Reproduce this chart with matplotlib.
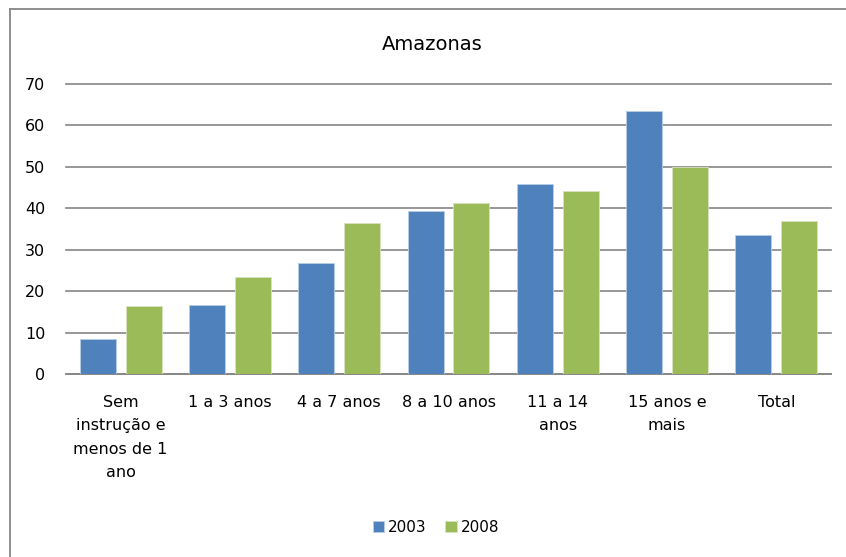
import numpy as np
import matplotlib.pyplot as plt
from matplotlib.lines import Line2D

categories = ['Sem\ninstrução e\nmenos de 1\nano', '1 a 3 anos', '4 a 7 anos',
              '8 a 10 anos', '11 a 14\nanos', '15 anos e\nmais', 'Total']
v2003 = [8.4, 16.6, 26.7, 39.3, 45.8, 63.6, 33.5]
v2008 = [16.5, 23.5, 36.5, 41.3, 44.1, 50.0, 36.9]
series_names = ['2003', '2008']
yticks = [0, 10, 20, 30, 40, 50, 60, 70]


def main():
    plt.rcParams['font.family'] = ['DejaVu Sans']
    fig = plt.figure(figsize=(8.46, 5.57), dpi=100)
    ax = fig.add_axes([66 / 846, 1 - 374 / 557, 765 / 846, 290 / 557])

    # chart border (only top and left fall inside the picture)
    bx, by = 9.5 / 846, 1 - 8.5 / 557
    fig.add_artist(Line2D([bx, 1.0], [by, by], transform=fig.transFigure,
                          color='#868686', linewidth=1.3))
    fig.add_artist(Line2D([bx, bx], [0.0, by], transform=fig.transFigure,
                          color='#868686', linewidth=1.3))

    x = np.arange(len(categories))
    w = 0.33
    ax.bar(x - 0.21, v2003, w, color='#4F81BD', edgecolor='#B9CDE5',
           linewidth=0.6, label=series_names[0], zorder=3)
    ax.bar(x + 0.21, v2008, w, color='#9BBB59', edgecolor='#D7E4BD',
           linewidth=0.6, label=series_names[1], zorder=3)

    ax.set_xlim(-0.5, len(categories) - 0.5)
    ax.set_ylim(0, 70)
    ax.set_yticks(yticks)
    ax.yaxis.grid(True, color='#868686', linewidth=1.2)
    for gl in ax.yaxis.get_gridlines():
        gl.set_clip_on(False)
    ax.set_axisbelow(True)
    for s in ['top', 'right', 'left']:
        ax.spines[s].set_visible(False)
    ax.spines['bottom'].set_color('#868686')
    ax.spines['bottom'].set_linewidth(1.2)
    ax.tick_params(axis='both', length=0, labelsize=11.5)
    ax.tick_params(axis='y', pad=15)
    ax.set_xticks(x)
    ax.set_xticklabels(categories, linespacing=1.7, va='top')
    ax.tick_params(axis='x', pad=15)

    fig.text(432 / 846, 1 - 44 / 557, 'Amazonas', ha='center', va='center',
             fontsize=14)

    fig.legend(loc='center', bbox_to_anchor=(436 / 846, 1 - 527 / 557),
               ncol=2, frameon=False, fontsize=11, handlelength=0.75,
               handleheight=0.75, handletextpad=0.25, columnspacing=1.2)

    fig.savefig('out.png', dpi=100)


if __name__ == "__main__":
    main()
